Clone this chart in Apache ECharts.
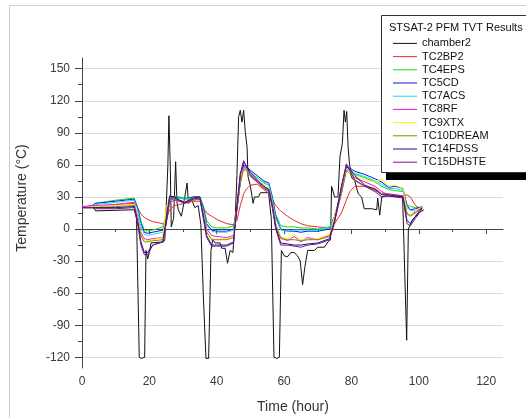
<!DOCTYPE html>
<html>
<head>
<meta charset="utf-8">
<script src="https://cdn.jsdelivr.net/npm/echarts@6/dist/echarts.min.js"></script>
<style>html,body{margin:0;padding:0;background:#fff}#c{width:526px;height:418px}</style>
</head>
<body>
<div id="c"></div>
<script>
const seriesNames = ['chamber2','TC2BP2','TC4EPS','TC5CD','TC7ACS','TC8RF','TC9XTX','TC10DREAM','TC14FDSS','TC15DHSTE'];
const seriesColors = ['#111111','#f02828','#10dd10','#1010f0','#10e0f0','#f010f0','#f8f000','#8a8a10','#101088','#801090'];
const xMajor = [0,20,40,60,80,100,120];
const xMinor = [10,30,50,70,90,110];
const yMajor = [-120,-90,-60,-30,0,30,60,90,120,150];
const yMinor = [-105,-75,-45,-15,15,45,75,105,135];

const tChamber = [0,3.5,4,15.5,16.2,17.0,17.6,18.6,19.0,19.5,20,20.5,24.2,24.6,25.0,25.5,25.8,26.2,26.5,27.2,27.8,28.2,28.6,29.5,30.0,31.2,31.6,32.5,33.5,34.5,35.3,36.0,36.8,37.6,38.3,38.8,39.5,41,41.5,42.5,43.2,44,44.8,45.5,46.0,46.5,47,47.5,48,48.5,49,49.3,50,50.8,51.2,52.4,53,55.4,56.2,57.0,57.8,58.6,59.2,60,61,62,63,64,64.8,65.5,66.2,67,69,70,72,73,73.8,74.1,75,76,76.6,77.3,77.8,78.2,78.6,79,79.4,80,81,82,83,83.8,86,87.5,87.8,88.4,89,90,95.2,96.0,96.4,96.9,98,100,101.5];
const chamber2 = [20,20,17,18,10,-120,-121,-120,-20,-28,-22,-13,-12,-10,20,60,106,60,2,10,63,25,18,12,20,43,24,28,20,22,4,-60,-121,-121,-20,-10,-13,-13,-18,-18,-32,-20,-22,10,50,105,111,100,111,90,77,49,40,24,30,30,34,34,10,-120,-121,-120,-20,-25,-26,-22,-22,-25,-30,-52,-35,-20,-20,-17,-17,-12,-10,40,30,30,68,80,111,100,110,77,62,48,45,33,30,19,19,18,29,13,30,31,30,-60,-104,0,8,15,18];

const tSensor = [0,3,4,10,15.5,16.5,17.5,18.5,19.5,21,24,25,26,27.5,29,30.5,33,35,36,37,38.5,40,43,45,46,47,48,49,50,52,54,55.5,56.5,57.5,59,61,63,65,67,70,73.5,75,77,78.5,79.5,81,84,87,89,91,93,95.3,96.5,97.5,99,101];
const TC2BP2 = [20,21,21,23,25, 20,14,11,9,7, 5,8,18,22,23, 24,26,26,20,15, 12,9,5,4,8, 22,33,38,41,42, 37,33,28,22,17, 12,8,5,3,2, 1,5,15,27,35, 40,40,38,33,33, 32,31,32,30,22, 18];
const TC4EPS = [20,22,24,27,29, 20,8,-1,-2,-1, 2,12,28,31,30, 29,30,30,22,8, 2,1,1,3,20, 42,58,57,53,48, 43,41,30,14,3, 2,2,1,1,0, 2,12,33,55,55, 51,48,44,40,37, 36,35,23,21,20, 20];
const TC5CD = [20,22,24,26,28, 20,5,-3,-4,-3, -1,10,27,30,29, 28,30,30,20,5, -1,-2,-2,0,20, 45,60,58,55,50, 45,43,30,12,0, -2,-2,-3,-2,-2, 0,12,35,58,57, 54,51,47,44,39, 40,38,22,18,19, 21];
const TC7ACS = [20,22,23,25,27, 18,3,-5,-6,-5, -3,8,26,29,29, 28,29,29,18,3, -2,-3,-3,-1,18, 44,58,57,53,48, 44,41,28,10,-1, -2,-1,-1,-1,-1, 1,11,34,56,56, 52,49,45,42,38, 38,36,20,17,17, 20];
const TC8RF = [21,22,22,23,24, 12,-3,-9,-10,-9, -8,5,25,27,26, 25,27,28,15,0, -6,-7,-8,-6,18, 45,58,55,50,45, 40,37,25,5,-8, -11,-7,-12,-8,-10, -6,8,33,57,54, 48,44,40,35,32, 32,31,15,13,16, 21];
const TC9XTX = [20,21,21,22,23, 10,-5,-10,-11,-10, -8,20,30,29,27, 26,28,29,14,-2, -9,-10,-9,-7,22, 48,56,55,51,46, 41,38,24,4,-7, -9,-5,-10,-10,-9, -5,12,36,56,54, 49,46,44,47,40, 41,38,16,13,17, 21];
const TC10DREAM = [20,20,20,21,22, 8,-6,-12,-12,-11, -10,5,27,28,26, 25,27,28,13,-3, -10,-10,-10,-8,18, 44,56,54,49,44, 39,36,22,3,-9, -10,-10,-11,-10,-10, -7,8,33,55,52, 45,40,36,33,32, 31,30,14,12,15, 20];
const TC14FDSS = [20,20,20,20,21, 8,-12,-22,-22,-15, -12,8,31,30,27, 25,29,30,12,-6, -15,-15,-15,-12,22, 52,63,58,53,46, 40,37,22,2,-13, -14,-15,-15,-14,-13, -9,8,40,60,56, 50,41,37,32,32, 31,30,8,5,12, 20];
const TC15DHSTE = [20,20,19,19,20, 5,-15,-24,-24,-15, -12,5,30,29,26, 24,28,29,10,-8, -16,-16,-16,-13,20, 50,64,57,51,44, 38,35,20,0,-15, -15,-16,-17,-15,-14, -10,6,38,61,55, 46,40,35,30,31, 30,29,5,3,10, 19];

const sensorValues = [TC2BP2,TC4EPS,TC5CD,TC7ACS,TC8RF,TC9XTX,TC10DREAM,TC14FDSS,TC15DHSTE];
const FONT = 'Liberation Sans, Arial, sans-serif';
const zip = (t, v) => t.map((x, i) => [x, v[i]]);

const series = [];
series.push({name: seriesNames[0], type:'line', data: zip(tChamber, chamber2), symbol:'none', lineStyle:{width:1, color: seriesColors[0]}, itemStyle:{color: seriesColors[0]}, z:2});
sensorValues.forEach((v, i) => {
  series.push({name: seriesNames[i+1], type:'line', data: zip(tSensor, v), symbol:'none', lineStyle:{width:1, color: seriesColors[i+1]}, itemStyle:{color: seriesColors[i+1]}, z:3});
});

const axisColor = '#444';
const option = {
  animation: false,
  backgroundColor: '#fff',
  grid: {left: 82, right: 23, top: 58, bottom: 50},
  xAxis: [
    {type:'value', position:'bottom', min:0, max:125,
     axisLine:{show:true, lineStyle:{color:axisColor}},
     axisTick:{show:true, length:5, customValues:xMajor, lineStyle:{color:axisColor}},
     axisLabel:{customValues:xMajor, fontSize:12, color:'#3a3a3a', margin:8, fontFamily:FONT},
     splitLine:{show:false}},
    {type:'value', position:'bottom', min:0, max:125,
     axisLine:{show:false},
     axisTick:{show:true, length:3, customValues:xMinor, lineStyle:{color:axisColor}},
     axisLabel:{show:false}, splitLine:{show:false}}
  ],
  yAxis: [
    {type:'value', position:'left', min:-130, max:160,
     axisLine:{show:true, lineStyle:{color:axisColor}},
     axisTick:{show:true, length:7, customValues:yMajor, lineStyle:{color:axisColor}},
     axisLabel:{customValues:yMajor, fontSize:12, color:'#3a3a3a', margin:12, fontFamily:FONT},
     splitLine:{show:true, lineStyle:{color:'#dcdcdc', width:1}}},
    {type:'value', position:'left', min:-130, max:160,
     axisLine:{show:false},
     axisTick:{show:true, length:4, customValues:yMinor, lineStyle:{color:axisColor}},
     axisLabel:{show:false}, splitLine:{show:false}}
  ],
  legend: {
    orient:'vertical', left:388, top:31.8, itemGap:0, itemWidth:24, itemHeight:13.2,
    symbolKeepAspect:true, z:101,
    data: seriesNames.map(n => ({name:n, icon:'path://M0,0 L24,0 L24,1 L0,1 Z'})),
    textStyle:{fontSize:11, lineHeight:13.2, color:'#111', fontFamily:FONT}
  },
  graphic: [
    {type:'polyline', shape:{points:[[9.5,418],[9.5,5.5],[526,5.5]]}, style:{stroke:'#cfcfcf', fill:null, lineWidth:1}, z:1, silent:true},
    {type:'text', x:22, y:198, rotation:Math.PI/2, style:{text:'Temperature (°C)', font:'14px '+FONT, fill:'#333', align:'center', verticalAlign:'middle'}},
    {type:'text', x:293, y:407, style:{text:'Time (hour)', font:'14px '+FONT, fill:'#333', align:'center', verticalAlign:'middle'}},
    {type:'rect', shape:{x:386, y:172.5, width:160, height:7.5}, style:{fill:'#000'}, z:99},
    {type:'rect', shape:{x:381.5, y:15.5, width:170, height:157}, style:{fill:'#fff', stroke:'#333', lineWidth:1}, z:100},
    {type:'text', x:389, y:27.5, style:{text:'STSAT-2 PFM TVT Results', font:'11px '+FONT, fill:'#111', verticalAlign:'middle'}, z:101}
  ],
  series: series
};
const chart = echarts.init(document.getElementById('c'), null, {renderer:'canvas'});
chart.setOption(option);
</script>
</body>
</html>
